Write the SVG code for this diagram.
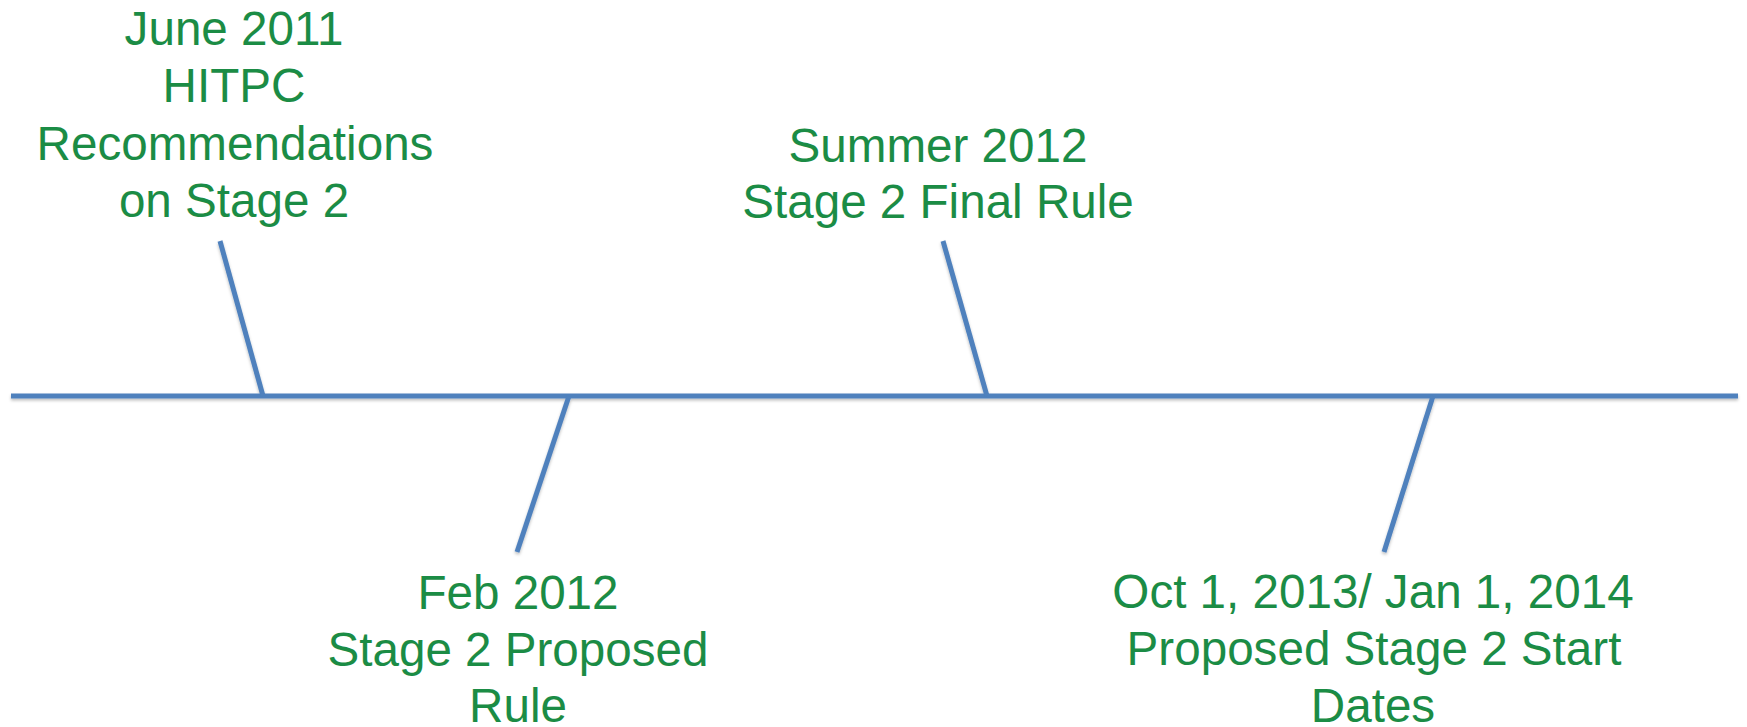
<svg xmlns="http://www.w3.org/2000/svg" width="1747" height="727" viewBox="0 0 1747 727">
<style>
.lbl{font-family:"Liberation Sans",Arial,sans-serif;font-size:47.6px;fill:#1b8c45;text-anchor:middle}
.ln{stroke:#4f81bd;stroke-width:5;fill:none}
</style>
<defs>
<filter id="sh" x="-5%" y="-20%" width="110%" height="140%">
<feDropShadow dx="0" dy="2" stdDeviation="1.5" flood-color="#000" flood-opacity="0.25"/>
</filter>
</defs>
<rect width="1747" height="727" fill="#fff"/>
<g id="connectors" filter="url(#sh)">
<line class="ln" x1="11" y1="396" x2="1738" y2="396"/>
<line class="ln" x1="220" y1="241" x2="263" y2="396"/>
<line class="ln" x1="569" y1="396" x2="517" y2="552"/>
<line class="ln" x1="943" y1="241" x2="987" y2="396"/>
<line class="ln" x1="1433" y1="396" x2="1384" y2="552"/>
</g>
<g id="node-june2011">
<text class="lbl" x="234" y="45">June 2011</text>
<text class="lbl" x="234" y="102">HITPC</text>
<text class="lbl" x="235" y="160">Recommendations</text>
<text class="lbl" x="234" y="217">on Stage 2</text>
</g>
<g id="node-feb2012">
<text class="lbl" x="518" y="609">Feb 2012</text>
<text class="lbl" x="518" y="666">Stage 2 Proposed</text>
<text class="lbl" x="518" y="722">Rule</text>
</g>
<g id="node-summer2012">
<text class="lbl" x="938" y="162">Summer 2012</text>
<text class="lbl" x="938" y="218">Stage 2 Final Rule</text>
</g>
<g id="node-oct2013">
<text class="lbl" x="1373" y="608">Oct 1, 2013/ Jan 1, 2014</text>
<text class="lbl" x="1374" y="665">Proposed Stage 2 Start</text>
<text class="lbl" x="1373" y="722">Dates</text>
</g>
</svg>
